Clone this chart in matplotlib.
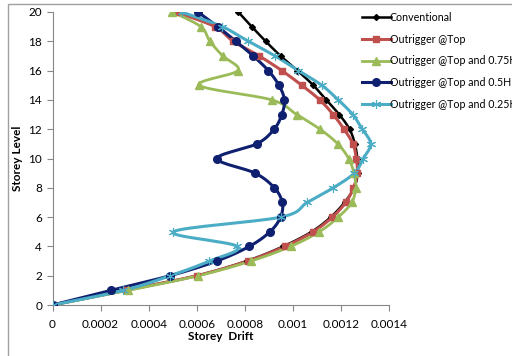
import numpy as np
import matplotlib
matplotlib.use("Agg")
import matplotlib.pyplot as plt
from matplotlib.patches import Rectangle

plt.rcParams['font.family'] = ['Lato', 'DejaVu Sans']

levels = list(range(0, 21))
conventional = [0, 0.000305, 0.000600, 0.000808, 0.000960, 0.001078, 0.001158, 0.001215,
                0.001255, 0.001270, 0.001268, 0.001258, 0.001236, 0.001193, 0.001139,
                0.001085, 0.001019, 0.000949, 0.000887, 0.000829, 0.000773]
top = [0, 0.000305, 0.000600, 0.000812, 0.000967, 0.001085, 0.001164, 0.001220, 0.001252,
       0.001268, 0.001264, 0.001250, 0.001213, 0.001168, 0.001112, 0.001037, 0.000954,
       0.000860, 0.000752, 0.000676, 0.000513]
top_075 = [0, 0.000315, 0.000607, 0.000826, 0.000991, 0.001110, 0.001189, 0.001245, 0.001261,
           0.001254, 0.001232, 0.001187, 0.001113, 0.001016, 0.000912, 0.000611, 0.000771,
           0.000708, 0.000655, 0.000617, 0.000499]
top_05 = [0, 0.000243, 0.000489, 0.000683, 0.000819, 0.000905, 0.000949, 0.000956, 0.000923,
          0.000843, 0.000685, 0.000850, 0.000922, 0.000954, 0.000965, 0.000942, 0.000898,
          0.000835, 0.000763, 0.000687, 0.000605]
top_025 = [0, 0.000295, 0.000490, 0.000653, 0.000769, 0.000503, 0.000950, 0.001060, 0.001168,
           0.001256, 0.001293, 0.001324, 0.001289, 0.001249, 0.001189, 0.001120, 0.001023,
           0.000926, 0.000815, 0.000706, 0.000537]

labels = ["Conventional", "Outrigger @Top", "Outrigger @Top and 0.75H",
          "Outrigger @Top and 0.5H", "Outrigger @Top and 0.25H"]
series = [conventional, top, top_075, top_05, top_025]
colors = ["#000000", "#C0504D", "#9BBB59", "#102070", "#4BACC6"]
markers = ["D", "s", "^", "o", (6, 2, 0)]
msizes = [3.0, 5.0, 5.5, 5.5, 6.5]
mews = [1.0, 1.0, 1.0, 1.0, 0.8]
lws = [1.8, 2.2, 2.0, 2.2, 2.2]


def smooth(x, y, n=16):
    """Catmull-Rom curve through points, computed in normalised space."""
    x = np.asarray(x, float); y = np.asarray(y, float)
    sx, sy = 0.0014, 20.0
    P = np.column_stack([x / sx, y / sy])
    P = np.vstack([P[0], P, P[-1]])
    out = []
    for i in range(1, len(P) - 2):
        p0, p1, p2, p3 = P[i - 1], P[i], P[i + 1], P[i + 2]
        t = np.linspace(0, 1, n, endpoint=False)[:, None]
        c = 0.5 * ((2 * p1) + (-p0 + p2) * t + (2 * p0 - 5 * p1 + 4 * p2 - p3) * t ** 2
                   + (-p0 + 3 * p1 - 3 * p2 + p3) * t ** 3)
        out.append(c)
    out.append(P[-2][None, :])
    out = np.vstack(out)
    return out[:, 0] * sx, out[:, 1] * sy


fig = plt.figure(figsize=(5.12, 3.56), dpi=100)
ax = fig.add_axes([52.5 / 512, 1 - 305 / 356, (389 - 52.5) / 512, (305 - 12) / 356])

fig.patches.append(Rectangle((8 / 512, -0.2), 1.2, 1.2 - 4 / 356, transform=fig.transFigure,
                             fill=False, edgecolor="#A0A0A0", linewidth=1.0))

handles = []
for vals, lab, c, m, ms, mew, lw in zip(series, labels, colors, markers, msizes, mews, lws):
    sxv, syv = smooth(vals, levels)
    ax.plot(sxv, syv, color=c, lw=lw, solid_capstyle='round', zorder=2)
    ax.plot(vals, levels, linestyle='none', marker=m, markersize=ms, color=c,
            markeredgecolor=c, markeredgewidth=mew, zorder=3)
    h, = ax.plot([], [], color=c, lw=lw, marker=m, markersize=ms, markeredgecolor=c,
                 markeredgewidth=mew)
    handles.append(h)

ax.set_xlim(0, 0.0014)
ax.set_ylim(0, 20)
ax.set_xticks(np.arange(0, 0.00141, 0.0002))
ax.set_xticklabels(["0", "0.0002", "0.0004", "0.0006", "0.0008", "0.001", "0.0012", "0.0014"])
ax.set_yticks(range(0, 21, 2))
for s in ["top", "right"]:
    ax.spines[s].set_visible(False)
for s in ["left", "bottom"]:
    ax.spines[s].set_color("#868686")
    ax.spines[s].set_linewidth(0.8)
ax.tick_params(axis='both', direction='out', color="#868686", length=4, width=0.8,
               labelsize=8.5, labelcolor="#000000")
ax.tick_params(axis='x', pad=6)
ax.set_xlabel("Storey  Drift", fontsize=8.5, fontweight='bold', labelpad=1)
ax.set_ylabel("Storey Level", fontsize=8.5, fontweight='bold', labelpad=4)

fig.legend(handles, labels, loc='upper left', bbox_to_anchor=(362 / 512, 1 - 12 / 356),
           frameon=False, fontsize=7.7, handlelength=2.7, handletextpad=-0.1,
           labelspacing=1.0, borderaxespad=0, borderpad=0)

fig.savefig("out.png", dpi=100)
